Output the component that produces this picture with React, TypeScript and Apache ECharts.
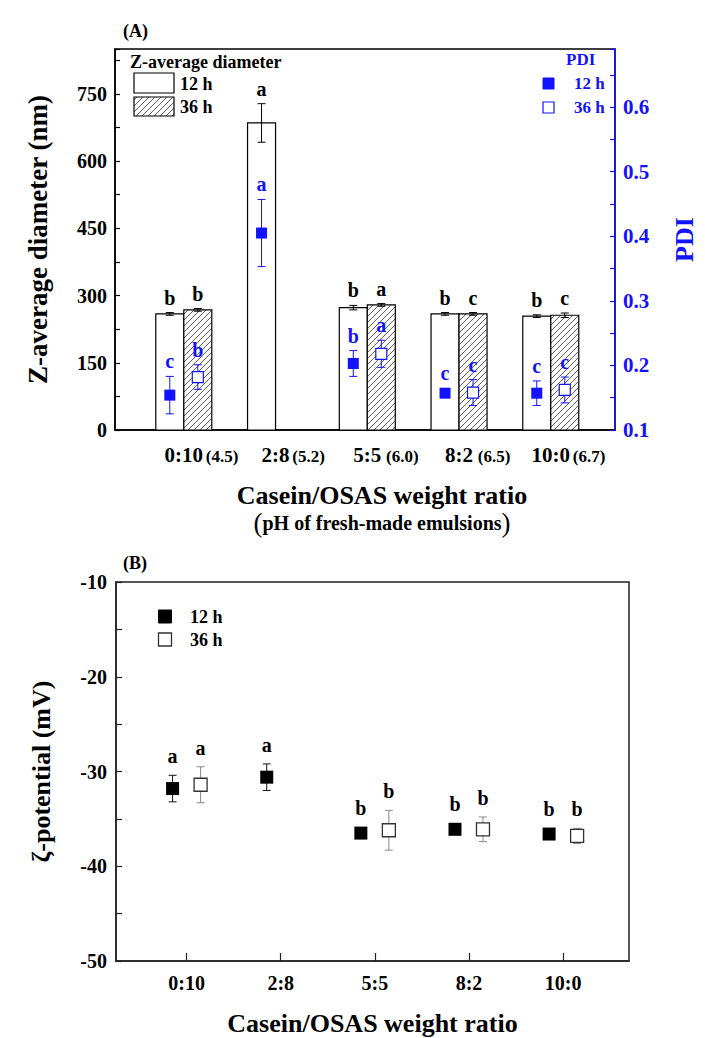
import React, { useEffect, useRef } from 'react';
import * as echarts from 'echarts';

// ---------- data ----------
const ratios = ['0:10', '2:8', '5:5', '8:2', '10:0'];
const phLabels = ['(4.5)', '(5.2)', ' (6.0)', ' (6.5)', '(6.7)'];

// Panel A: Z-average diameter (nm)
const zAvg12 = [259, 685, 273, 259, 254];
const zAvg12Err = [3, 43, 5, 3, 3];
const zAvg36: (number | null)[] = [268, null, 279, 259, 256];
const zAvg36Err: (number | null)[] = [3, null, 3, 3, 5];
const zLetters12 = ['b', 'a', 'b', 'b', 'b'];
const zLetters36 = ['b', '', 'a', 'c', 'c'];

// Panel A: PDI
const pdi12 = [0.154, 0.405, 0.203, 0.157, 0.157];
const pdi12Err = [0.029, 0.052, 0.02, 0.005, 0.019];
const pdi36: (number | null)[] = [0.182, null, 0.218, 0.158, 0.162];
const pdi36Err: (number | null)[] = [0.019, null, 0.021, 0.02, 0.02];
const pdiLetters12 = ['c', 'a', 'b', 'c', 'c'];
const pdiLetters36 = ['b', '', 'a', 'c', 'c'];

// Panel B: zeta-potential (mV)
const zeta12 = [-31.8, -30.6, -36.5, -36.1, -36.6];
const zeta12Err = [1.4, 1.4, 0.3, 0.4, 0.3];
const zeta36: (number | null)[] = [-31.4, null, -36.2, -36.1, -36.8];
const zeta36Err: (number | null)[] = [1.9, null, 2.1, 1.3, 0.8];
const zetaLetters12 = ['a', 'a', 'b', 'b', 'b'];
const zetaLetters36 = ['a', '', 'b', 'b', 'b'];

// ---------- styles ----------
const FONT = '"Liberation Serif", "Times New Roman", serif';
const BLUE = '#1212ff';
const BAR_W = 28;
const OFF = 14;
const PHW = 38;

function rows(vals: (number | null)[], errs: (number | null)[]) {
  const out: number[][] = [];
  vals.forEach((v, i) => {
    if (v == null) return;
    out.push([i + 1, v, errs[i] ?? 0, i]);
  });
  return out;
}

function hatchLines(L: number, T: number, W: number, H: number, s: number) {
  const R = L + W;
  const B = T + H;
  const out: any[] = [];
  const start = Math.ceil((L + T) / s) * s;
  for (let c = start; c <= R + B; c += s) {
    const x1 = Math.max(L, c - B);
    const x2 = Math.min(R, c - T);
    if (x2 - x1 < 0.5) continue;
    out.push({
      type: 'line',
      shape: { x1, y1: c - x1, x2, y2: c - x2 },
      style: { stroke: '#333', lineWidth: 0.8 },
      silent: true,
    });
  }
  return out;
}

function textEl(x: number, y: number, text: string, color: string, size: number, align = 'center') {
  return {
    type: 'text',
    x,
    y,
    style: {
      text,
      fill: color,
      fontSize: size,
      fontWeight: 'bold',
      fontFamily: FONT,
      align,
      verticalAlign: 'middle',
      textAlign: align,
      textVerticalAlign: 'middle',
    },
  };
}

function errChildren(api: any, offset: number, color: string, lw: number, markerHalf: number) {
  const x = api.value(0);
  const y = api.value(1);
  const e = api.value(2);
  const c = api.coord([x, y]);
  const t = api.coord([x, y + e]);
  const b = api.coord([x, y - e]);
  const cx = c[0] + offset;
  const ch: any[] = [];
  if (Math.abs(b[1] - t[1]) > 1) {
    const st = { stroke: color, lineWidth: lw };
    ch.push({ type: 'line', shape: { x1: cx, y1: t[1], x2: cx, y2: b[1] }, style: st });
    ch.push({ type: 'line', shape: { x1: cx - 4, y1: t[1], x2: cx + 4, y2: t[1] }, style: st });
    ch.push({ type: 'line', shape: { x1: cx - 4, y1: b[1], x2: cx + 4, y2: b[1] }, style: st });
  }
  const top = Math.min(t[1], c[1] - markerHalf);
  return { ch, cx, top };
}

function barRender(side: number, hatched: boolean, letters: string[]) {
  return (params: any, api: any) => {
    const x = api.value(0);
    const y = api.value(1);
    const i = api.value(3);
    const top = api.coord([x, y]);
    const base = api.coord([x, 0]);
    const left = side < 0 ? top[0] - BAR_W : top[0];
    const h = base[1] - top[1];
    const children: any[] = [];
    children.push({ type: 'rect', shape: { x: left, y: top[1], width: BAR_W, height: h }, style: { fill: '#fff', stroke: 'none' } });
    if (hatched) children.push(...hatchLines(left, top[1], BAR_W, h, 6));
    children.push({ type: 'rect', shape: { x: left, y: top[1], width: BAR_W, height: h }, style: { fill: 'none', stroke: '#000', lineWidth: 1.2 } });
    const { ch, cx, top: et } = errChildren(api, side * OFF, '#000', 1, 0);
    children.push(...ch);
    if (letters[i]) children.push(textEl(cx, et - 15, letters[i], '#000', 20));
    return { type: 'group', children };
  };
}

function errRender(side: number, color: string, letters: string[], letterColor: string, markerHalf: number, gap: number, lw: number, size: number) {
  return (params: any, api: any) => {
    const i = api.value(3);
    const { ch, cx, top } = errChildren(api, side * OFF, color, lw, markerHalf);
    const children = [...ch];
    if (letters[i]) children.push(textEl(cx, top - gap, letters[i], letterColor, size));
    return { type: 'group', children };
  };
}

const boldText = (size: number, color = '#000') => ({ fontSize: size, fontWeight: 'bold' as const, fontFamily: FONT, color });

export default function App() {
  const ref = useRef<HTMLDivElement>(null);
  useEffect(() => {
    document.body.style.margin = '0';
    const chart = echarts.init(ref.current!, null, { renderer: 'svg' });
    const option: any = {
      animation: false,
      backgroundColor: '#fff',
      grid: [
        { left: 115, top: 49, right: 76, bottom: 608, show: true, borderColor: '#000', borderWidth: 1.5, backgroundColor: 'transparent' },
        { left: 116, top: 582, right: 76, bottom: 74, show: true, borderColor: '#222', borderWidth: 1.5, backgroundColor: 'transparent' },
      ],
      xAxis: [
        {
          type: 'value', gridIndex: 0, min: 0.25, max: 5.7,
          splitLine: { show: false },
          axisLine: { show: true, lineStyle: { color: '#000', width: 1.5 } },
          axisTick: { show: false },
          axisLabel: {
            customValues: [1, 2, 3, 4, 5],
            margin: 14,
            formatter: (v: number) => {
              const i = Math.round(v) - 1;
              return `{pad|}{c|${ratios[i]}}{p|${phLabels[i]}}`;
            },
            rich: {
              pad: { width: PHW },
              c: boldText(21),
              p: { ...boldText(17), width: PHW, align: 'left', padding: [4, 0, 0, 0] },
            },
          },
          name: '{t|Casein/OSAS weight ratio}\n{s|(}{q|pH of fresh-made emulsions}{s|)}',
          nameLocation: 'middle',
          nameGap: 50,
          nameTextStyle: {
            padding: [0, 0, 0, 34],
            rich: {
              t: { ...boldText(26), lineHeight: 30 },
              s: { fontSize: 27, fontFamily: FONT, color: '#000', lineHeight: 26 },
              q: { ...boldText(20), lineHeight: 26 },
            },
          },
        },
        {
          type: 'value', gridIndex: 1, min: 0.25, max: 5.7,
          splitLine: { show: false },
          axisLine: { show: true, lineStyle: { color: '#222', width: 1.5 } },
          axisTick: { show: true, customValues: [1, 2, 3, 4, 5], inside: true, length: 8, lineStyle: { color: '#222', width: 1.2 } },
          axisLabel: {
            customValues: [1, 2, 3, 4, 5],
            margin: 12,
            formatter: (v: number) => ratios[Math.round(v) - 1],
            ...boldText(20),
          },
          name: 'Casein/OSAS weight ratio',
          nameLocation: 'middle',
          nameGap: 48,
          nameTextStyle: { ...boldText(26), lineHeight: 28 },
        },
      ],
      yAxis: [
        {
          type: 'value', gridIndex: 0, position: 'left', min: 0, max: 850, interval: 75,
          splitLine: { show: false },
          axisLine: { show: true, lineStyle: { color: '#000', width: 1.5 } },
          axisTick: { show: true, inside: true, length: 5, lineStyle: { color: '#000', width: 1.2 } },
          axisLabel: { formatter: (v: number) => (v % 150 === 0 ? String(v) : ''), margin: 8, ...boldText(20) },
          name: 'Z-average diameter (nm)',
          nameLocation: 'middle',
          nameRotate: 90,
          nameGap: 64,
          nameTextStyle: boldText(27),
        },
        {
          type: 'value', gridIndex: 0, position: 'right', min: 0.1, max: 0.69, interval: 0.05,
          splitLine: { show: false },
          axisLine: { show: true, lineStyle: { color: BLUE, width: 1.5 } },
          axisTick: { show: true, inside: true, length: 5, lineStyle: { color: BLUE, width: 1.2 } },
          axisLabel: {
            formatter: (v: number) => (Math.abs(Math.round(v * 10) - v * 10) < 1e-6 ? v.toFixed(1) : ''),
            margin: 8,
            ...boldText(21, BLUE),
          },
          name: 'PDI',
          nameLocation: 'middle',
          nameRotate: 90,
          nameGap: 56,
          nameTextStyle: boldText(26, BLUE),
        },
        {
          type: 'value', gridIndex: 1, position: 'left', min: -50, max: -10, interval: 5,
          splitLine: { show: false },
          axisLine: { show: true, lineStyle: { color: '#222', width: 1.5 } },
          axisTick: { show: true, inside: true, length: 6, lineStyle: { color: '#222', width: 1.2 } },
          axisLabel: { formatter: (v: number) => (v % 10 === 0 ? String(v) : ''), margin: 9, ...boldText(20) },
          name: 'ζ-potential (mV)',
          nameLocation: 'middle',
          nameRotate: 90,
          nameGap: 62,
          nameTextStyle: boldText(26),
        },
      ],
      series: [
        { name: 'Z-average 12 h', type: 'custom', xAxisIndex: 0, yAxisIndex: 0, z: 1, clip: false,
          data: rows(zAvg12, zAvg12Err), renderItem: barRender(-1, false, zLetters12) },
        { name: 'Z-average 36 h', type: 'custom', xAxisIndex: 0, yAxisIndex: 0, z: 1, clip: false,
          data: rows(zAvg36, zAvg36Err), renderItem: barRender(1, true, zLetters36) },
        { name: 'PDI 12 h err', type: 'custom', xAxisIndex: 0, yAxisIndex: 1, z: 2, clip: false,
          data: rows(pdi12, pdi12Err), renderItem: errRender(-1, BLUE, pdiLetters12, BLUE, 5.5, 15, 1, 20) },
        { name: 'PDI 36 h err', type: 'custom', xAxisIndex: 0, yAxisIndex: 1, z: 2, clip: false,
          data: rows(pdi36, pdi36Err), renderItem: errRender(1, BLUE, pdiLetters36, BLUE, 5.5, 15, 1, 20) },
        { name: 'PDI 12 h', type: 'scatter', xAxisIndex: 0, yAxisIndex: 1, z: 3,
          data: rows(pdi12, pdi12Err).map((r) => [r[0], r[1]]),
          symbol: 'rect', symbolSize: 11, symbolOffset: [-OFF, 0],
          itemStyle: { color: BLUE, opacity: 1 } },
        { name: 'PDI 36 h', type: 'scatter', xAxisIndex: 0, yAxisIndex: 1, z: 3,
          data: rows(pdi36, pdi36Err).map((r) => [r[0], r[1]]),
          symbol: 'rect', symbolSize: 11, symbolOffset: [OFF, 0],
          itemStyle: { color: '#fff', borderColor: BLUE, borderWidth: 1.2, opacity: 1 } },
        { name: 'ζ 12 h err', type: 'custom', xAxisIndex: 1, yAxisIndex: 2, z: 2, clip: false,
          data: rows(zeta12, zeta12Err), renderItem: errRender(-1, '#111', zetaLetters12, '#000', 6.5, 19, 1, 20) },
        { name: 'ζ 36 h err', type: 'custom', xAxisIndex: 1, yAxisIndex: 2, z: 2, clip: false,
          data: rows(zeta36, zeta36Err), renderItem: errRender(1, '#888', zetaLetters36, '#000', 6.5, 19, 1, 20) },
        { name: 'ζ 12 h', type: 'scatter', xAxisIndex: 1, yAxisIndex: 2, z: 3,
          data: rows(zeta12, zeta12Err).map((r) => [r[0], r[1]]),
          symbol: 'rect', symbolSize: 13, symbolOffset: [-OFF, 0],
          itemStyle: { color: '#000', opacity: 1 } },
        { name: 'ζ 36 h', type: 'scatter', xAxisIndex: 1, yAxisIndex: 2, z: 3,
          data: rows(zeta36, zeta36Err).map((r) => [r[0], r[1]]),
          symbol: 'rect', symbolSize: 13, symbolOffset: [OFF, 0],
          itemStyle: { color: '#fff', borderColor: '#333', borderWidth: 1.3, opacity: 1 } },
      ],
      graphic: [
        textEl(123, 31, '(A)', '#000', 18, 'left'),
        textEl(130, 62, 'Z-average diameter', '#000', 18, 'left'),
        { type: 'rect', shape: { x: 134, y: 73, width: 40, height: 20 }, style: { fill: '#fff', stroke: '#000', lineWidth: 1.2 } },
        textEl(180, 84, '12 h', '#000', 18, 'left'),
        { type: 'group', children: [
          { type: 'rect', shape: { x: 134, y: 97, width: 40, height: 19 }, style: { fill: '#fff', stroke: 'none' } },
          ...hatchLines(134, 97, 40, 19, 6),
          { type: 'rect', shape: { x: 134, y: 97, width: 40, height: 19 }, style: { fill: 'none', stroke: '#000', lineWidth: 1.2 } },
        ] },
        textEl(180, 107, '36 h', '#000', 18, 'left'),
        textEl(566, 59, 'PDI', BLUE, 17, 'left'),
        { type: 'rect', shape: { x: 543, y: 78, width: 11, height: 11 }, style: { fill: BLUE, stroke: BLUE, lineWidth: 1 } },
        textEl(574, 83, '12 h', BLUE, 17, 'left'),
        { type: 'rect', shape: { x: 543, y: 102, width: 11, height: 11 }, style: { fill: '#fff', stroke: BLUE, lineWidth: 1.2 } },
        textEl(574, 107, '36 h', BLUE, 17, 'left'),
        textEl(123, 563, '(B)', '#000', 18, 'left'),
        { type: 'rect', shape: { x: 158.5, y: 610, width: 13, height: 13 }, style: { fill: '#000', stroke: '#000', lineWidth: 1 } },
        textEl(190, 617, '12 h', '#000', 18, 'left'),
        { type: 'rect', shape: { x: 158.5, y: 633, width: 13, height: 13 }, style: { fill: '#fff', stroke: '#333', lineWidth: 1.3 } },
        textEl(190, 640, '36 h', '#000', 18, 'left'),
      ],
    };
    chart.setOption(option);
    return () => chart.dispose();
  }, []);
  return <div ref={ref} style={{ width: 705, height: 1038 }} />;
}
